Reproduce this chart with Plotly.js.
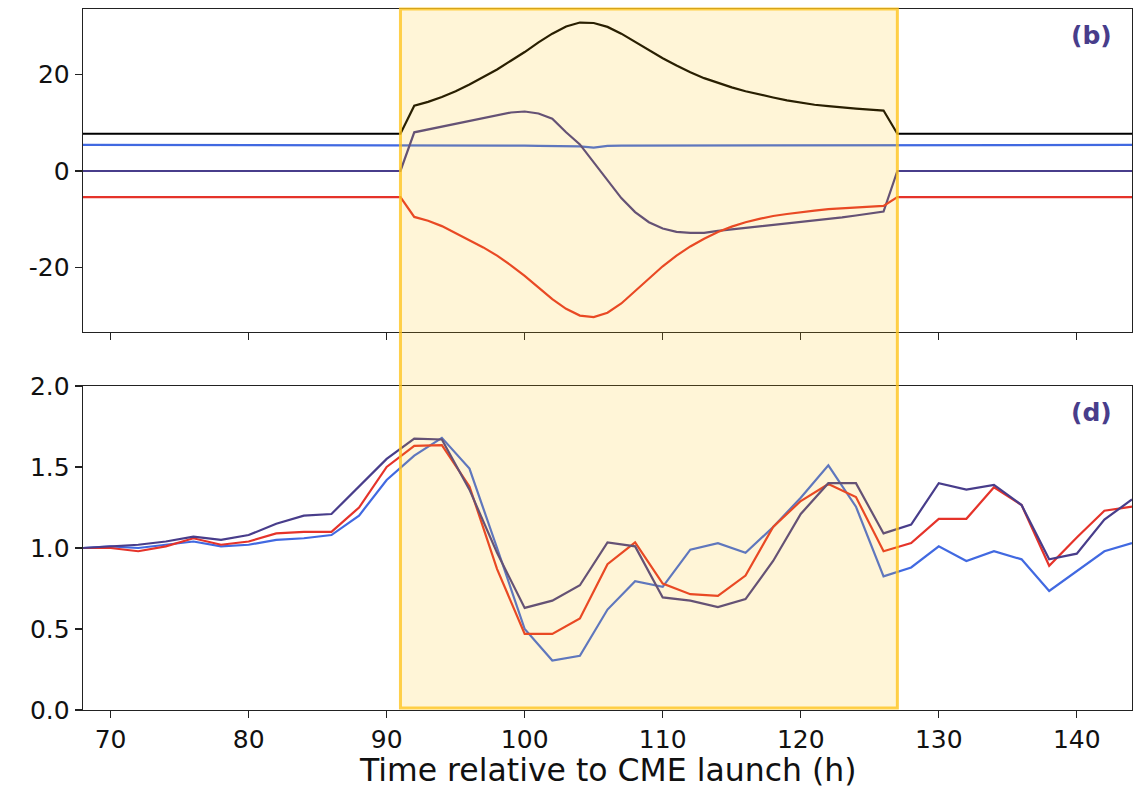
<!DOCTYPE html>
<html>
<head>
<meta charset="utf-8">
<script src="https://cdn.plot.ly/plotly-3.0.1.min.js"></script>
<style>html,body{margin:0;padding:0;background:#fff;}#chart{width:1137px;height:789px;}</style>
</head>
<body>
<div id="chart"></div>
<script>
// ---------- Top panel (b): hourly values inside the CME interval ----------
const tTop = [68, 91, 92, 93, 94, 95, 96, 97, 98, 99, 100, 101, 102, 103, 104, 105, 106, 107, 108, 109, 110,
  111, 112, 113, 114, 115, 116, 117, 118, 119, 120, 121, 122, 123, 124, 125, 126, 127, 144];
const topBlack = [7.7, 7.7, 13.5, 14.3, 15.3, 16.5, 17.9, 19.4, 21.0, 22.8, 24.6, 26.6, 28.4, 29.9, 30.7, 30.6, 29.8, 28.4, 26.7, 25.0, 23.3,
  21.8, 20.4, 19.2, 18.2, 17.3, 16.5, 15.8, 15.2, 14.6, 14.1, 13.7, 13.4, 13.1, 12.9, 12.7, 12.5, 7.7, 7.7];
const topBlue = [5.4, 5.4, 5.4, 5.4, 5.35, 5.35, 5.3, 5.3, 5.3, 5.25, 5.25, 5.2, 5.2, 5.15, 5.1, 4.85, 5.2, 5.25, 5.25, 5.25, 5.25,
  5.3, 5.3, 5.3, 5.3, 5.3, 5.3, 5.3, 5.35, 5.35, 5.35, 5.35, 5.35, 5.35, 5.4, 5.4, 5.4, 5.4, 5.4];
const topPurple = [0, 0, 8.0, 8.6, 9.2, 9.8, 10.4, 11.0, 11.6, 12.1, 12.3, 11.9, 10.8, 8.0, 5.5, 1.8, -2.1, -5.6, -8.5, -10.6, -11.9,
  -12.6, -12.8, -12.8, -12.4, -12.1, -11.8, -11.5, -11.2, -10.9, -10.6, -10.2, -9.9, -9.6, -9.2, -8.8, -8.4, 0, 0];
const topRed = [-5.4, -5.4, -9.5, -10.3, -11.4, -12.9, -14.4, -15.8, -17.5, -19.5, -21.7, -24.1, -26.5, -28.5, -29.9, -30.2, -29.3, -27.4, -24.8, -22.2, -19.7,
  -17.5, -15.6, -14.0, -12.6, -11.5, -10.6, -9.9, -9.3, -8.9, -8.5, -8.2, -7.9, -7.7, -7.5, -7.35, -7.2, -5.4, -5.4];

// ---------- Bottom panel (d): 2-hourly normalised values ----------
const tBot = [68, 70, 72, 74, 76, 78, 80, 82, 84, 86, 88, 90, 92, 94, 96, 98, 100, 102, 104, 106, 108, 110,
  112, 114, 116, 118, 120, 122, 124, 126, 128, 130, 132, 134, 136, 138, 140, 142, 144];
const botPurple = [1.0, 1.01, 1.02, 1.04, 1.07, 1.05, 1.08, 1.15, 1.2, 1.21, 1.38, 1.55, 1.675, 1.67, 1.36, 0.97, 0.63, 0.675, 0.77, 1.035, 1.01, 0.695,
  0.675, 0.635, 0.685, 0.92, 1.21, 1.40, 1.40, 1.09, 1.145, 1.40, 1.36, 1.39, 1.265, 0.93, 0.965, 1.175, 1.30];
const botRed = [1.0, 1.0, 0.98, 1.01, 1.06, 1.02, 1.04, 1.09, 1.10, 1.10, 1.25, 1.50, 1.63, 1.635, 1.38, 0.87, 0.47, 0.47, 0.565, 0.9, 1.035, 0.78,
  0.715, 0.705, 0.83, 1.13, 1.29, 1.395, 1.315, 0.98, 1.03, 1.18, 1.18, 1.375, 1.265, 0.89, 1.065, 1.23, 1.255];
const botBlue = [1.0, 1.01, 1.0, 1.02, 1.04, 1.01, 1.02, 1.05, 1.06, 1.08, 1.2, 1.42, 1.57, 1.68, 1.49, 1.0, 0.50, 0.305, 0.335, 0.62, 0.795, 0.76,
  0.99, 1.03, 0.97, 1.13, 1.31, 1.51, 1.255, 0.825, 0.88, 1.01, 0.92, 0.98, 0.93, 0.735, 0.86, 0.98, 1.03];

const xTickVals = [70, 80, 90, 100, 110, 120, 130, 140];
const topTickVals = [-20, 0, 20];
const topTickText = ['-20', '0', '20'];
const botTickVals = [0, 0.5, 1.0, 1.5, 2.0];
const botTickText = ['0.0', '0.5', '1.0', '1.5', '2.0'];
const xTitle = 'Time relative to CME launch (h)';
const cmeStart = 91, cmeEnd = 127;

const C_BLACK = '#000000', C_BLUE = '#4169e1', C_PURPLE = '#483d8b', C_RED = '#e5332a';
const LW = 2.2;

function tr(x, y, color, xa, ya) {
  return {x: x, y: y, type: 'scatter', mode: 'lines', xaxis: xa, yaxis: ya,
    line: {color: color, width: LW}, hoverinfo: 'skip', showlegend: false};
}

const data = [
  tr(tTop, topBlack, C_BLACK, 'x2', 'y2'),
  tr(tTop, topBlue, C_BLUE, 'x2', 'y2'),
  tr(tTop, topPurple, C_PURPLE, 'x2', 'y2'),
  tr(tTop, topRed, C_RED, 'x2', 'y2'),
  tr(tBot, botBlue, C_BLUE, 'x', 'y'),
  tr(tBot, botRed, C_RED, 'x', 'y'),
  tr(tBot, botPurple, C_PURPLE, 'x', 'y')
];

const FONT = 'DejaVu Sans';
const axCommon = {
  showline: true, mirror: true, linecolor: '#222', linewidth: 1.3,
  ticks: 'outside', ticklen: 7, tickwidth: 1.3, tickcolor: '#222',
  showgrid: false, zeroline: false,
  tickfont: {family: FONT, size: 25, color: '#111'}
};

const layout = {
  width: 1137, height: 789,
  margin: {l: 83, r: 5, t: 9, b: 79},
  paper_bgcolor: '#fff', plot_bgcolor: '#fff',
  showlegend: false,
  xaxis: Object.assign({}, axCommon, {
    domain: [0, 1], range: [68, 144], anchor: 'y', tickvals: xTickVals
  }),
  yaxis: Object.assign({}, axCommon, {
    domain: [0, 0.4622], range: [0, 2.0], anchor: 'x', tickvals: botTickVals, ticktext: botTickText
  }),
  xaxis2: Object.assign({}, axCommon, {
    domain: [0, 1], range: [68, 144], anchor: 'y2', tickvals: xTickVals, showticklabels: false, matches: 'x'
  }),
  yaxis2: Object.assign({}, axCommon, {
    domain: [0.5392, 1], range: [-33.3, 33.5], anchor: 'x2', tickvals: topTickVals, ticktext: topTickText
  }),
  shapes: [{
    type: 'rect', xref: 'x', yref: 'paper', x0: cmeStart, x1: cmeEnd, y0: 0.003, y1: 1.0,
    fillcolor: 'rgba(255,193,7,0.16)', line: {color: 'rgba(255,196,30,0.8)', width: 3}, layer: 'above'
  }],
  annotations: [
    {xref: 'paper', yref: 'paper', x: 0.5, y: -0.1127, xanchor: 'center', yanchor: 'bottom', showarrow: false,
     borderpad: 0, text: xTitle, font: {family: FONT, size: 31.5, color: '#111'}},
    {xref: 'paper', yref: 'paper', x: 0.9826, y: 0.9615, xanchor: 'right', yanchor: 'middle', showarrow: false,
     text: '<b>(b)</b>', font: {family: FONT, size: 25, color: C_PURPLE}},
    {xref: 'paper', yref: 'paper', x: 0.9826, y: 0.425, xanchor: 'right', yanchor: 'middle', showarrow: false,
     text: '<b>(d)</b>', font: {family: FONT, size: 25, color: C_PURPLE}}
  ]
};

Plotly.newPlot('chart', data, layout, {displayModeBar: false, staticPlot: true});
</script>
</body>
</html>
